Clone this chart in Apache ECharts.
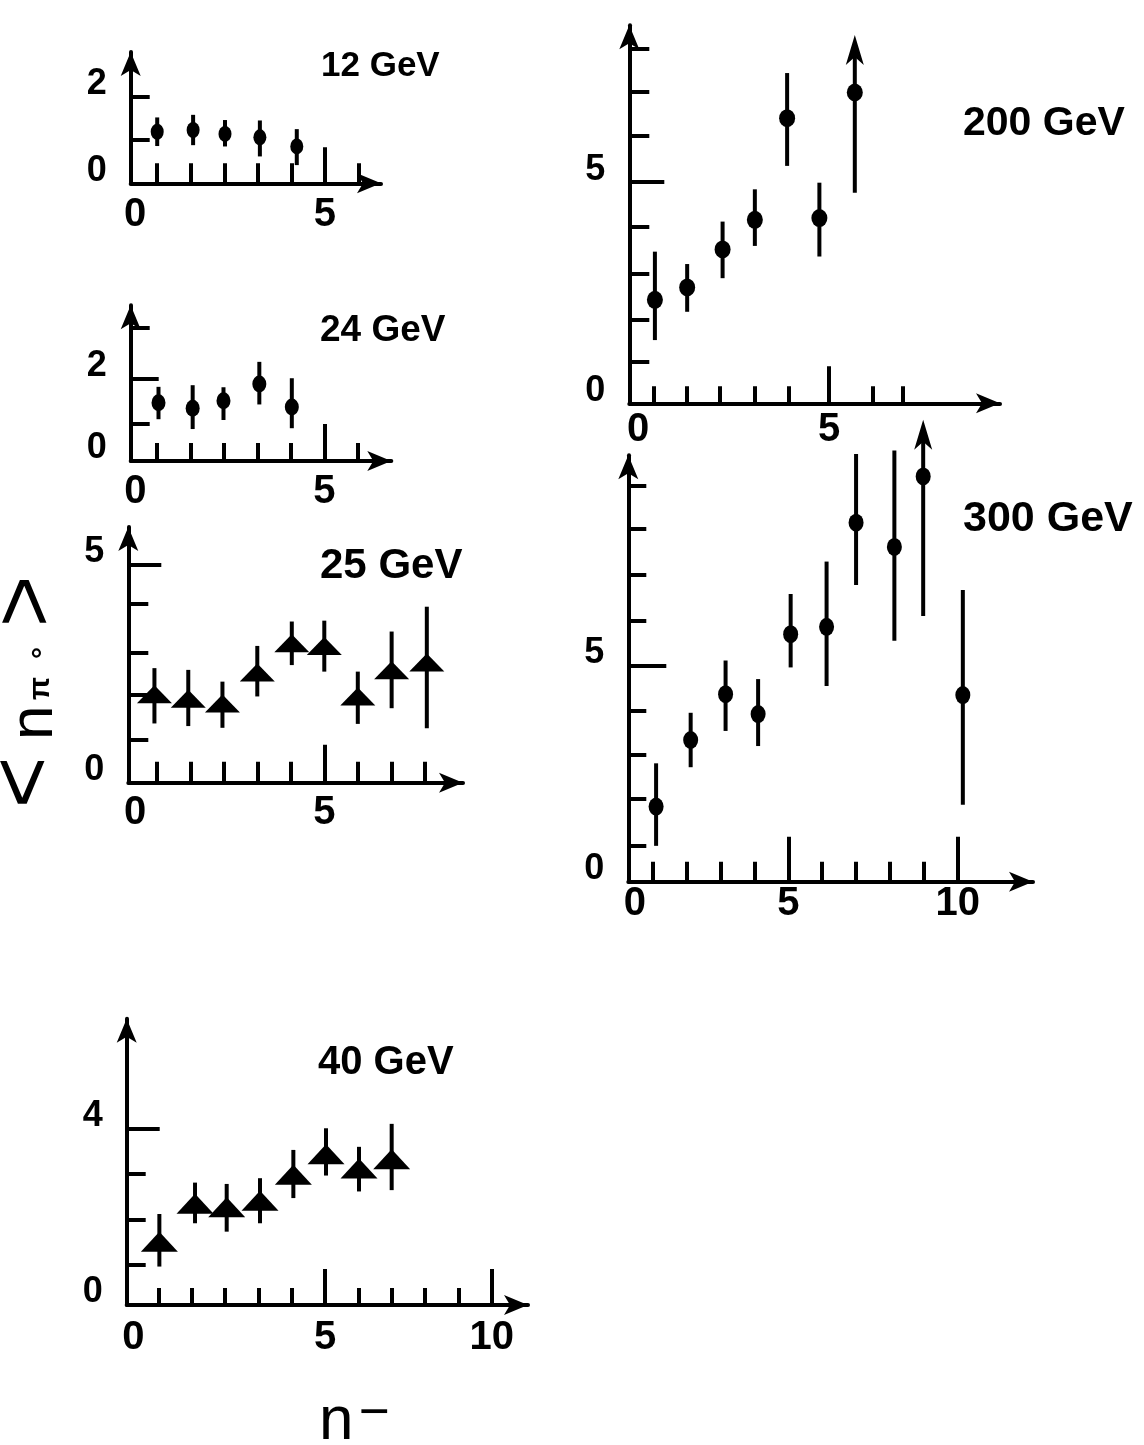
<!DOCTYPE html>
<html><head><meta charset="utf-8">
<script src="https://cdn.jsdelivr.net/npm/echarts@6/dist/echarts.min.js"></script>
<style>html,body{margin:0;padding:0;background:#fff}#c{width:1144px;height:1445px}</style>
</head><body><div id="c"></div>
<script>
// ---------- DATA ----------
// 12 GeV
const nA = [0, 1.07, 2.02, 3.06, 4.16];
const vA = [1.19, 1.23, 1.14, 1.06, 0.85];
const loA = [0.86, 0.88, 0.85, 0.62, 0.42];
const hiA = [1.52, 1.58, 1.46, 1.45, 1.25];
// 24 GeV
const nB = [0.05, 1.07, 1.99, 3.06, 4.03];
const vB = [1.42, 1.29, 1.47, 1.88, 1.32];
const loB = [1.02, 0.78, 1.00, 1.38, 0.80];
const hiB = [1.81, 1.85, 1.80, 2.42, 2.02];
// 25 GeV
const nC = [-0.07, 0.94, 1.96, 3.0, 4.03, 5.0, 6.0, 7.01, 8.06];
const vC = [2.03, 1.93, 1.82, 2.53, 3.20, 3.14, 1.98, 2.58, 2.76];
const loC = [1.36, 1.30, 1.26, 1.98, 2.70, 2.55, 1.35, 1.71, 1.25];
const hiC = [2.63, 2.59, 2.32, 3.14, 3.70, 3.72, 2.55, 3.47, 4.04];
// 40 GeV
const nD = [0.03, 1.10, 2.05, 3.05, 4.05, 5.03, 6.02, 7.0];
const vD = [1.43, 2.29, 2.21, 2.36, 2.95, 3.41, 3.09, 3.30];
const loD = [0.87, 1.85, 1.66, 1.85, 2.42, 2.93, 2.57, 2.60];
const hiD = [2.06, 2.77, 2.74, 2.87, 3.51, 4.00, 3.58, 4.10];
// 200 GeV
const nE = [0.03, 0.95, 1.96, 2.88, 3.80, 4.72, 5.73];
const vE = [2.34, 2.62, 3.48, 4.15, 6.45, 4.19, 7.03];
const loE = [1.43, 2.07, 2.83, 3.56, 5.37, 3.32, 4.76];
const hiE = [3.43, 3.15, 4.11, 4.84, 7.47, 4.99, 8.33];
const upE = [0, 0, 0, 0, 0, 0, 1];
// 300 GeV
const nF = [1.10, 2.12, 3.15, 4.11, 5.07, 6.13, 7.0, 8.13, 8.98, 10.15];
const vF = [1.74, 3.28, 4.34, 3.88, 5.73, 5.90, 8.31, 7.75, 9.38, 4.32];
const loF = [0.83, 2.65, 3.49, 3.14, 4.96, 4.53, 6.87, 5.58, 6.15, 1.78];
const hiF = [2.74, 3.91, 5.12, 4.69, 6.66, 7.41, 9.90, 9.98, 10.69, 6.75];
const upF = [0, 0, 0, 0, 0, 0, 0, 0, 1, 0];

// ---------- TICKS / LABELS ----------
const xTickA = [0, 1, 2, 3, 4, 6], xBigA = [5], xLabPosA = [-0.66, 5], xLabTxtA = ['0', '5'];
const yTickA = [1, 2], yBigA = [], yLabPosA = [0, 2], yLabTxtA = ['0', '2'];
const xTickB = [0, 1, 2, 3, 4, 6], xBigB = [5], xLabPosB = [-0.64, 5], xLabTxtB = ['0', '5'];
const yTickB = [0.9, 3.24], yBigB = [2], yLabPosB = [0, 2], yLabTxtB = ['0', '2'];
const xTickC = [0, 1, 2, 3, 4, 6, 7, 8], xBigC = [5], xLabPosC = [-0.65, 5], xLabTxtC = ['0', '5'];
const yTickC = [0.98, 2.01, 2.98, 4.1], yBigC = [5], yLabPosC = [0, 5], yLabTxtC = ['0', '5'];
const xTickD = [0, 1, 2, 3, 4, 6, 7, 8, 9], xBigD = [5, 10], xLabPosD = [-0.75, 5, 10], xLabTxtD = ['0', '5', '10'];
const yTickD = [0.91, 1.92, 2.96], yBigD = [4], yLabPosD = [0, 4], yLabTxtD = ['0', '4'];
const xTickE = [0, 0.95, 1.88, 2.88, 3.86, 6.24, 7.09], xBigE = [5], xLabPosE = [-0.45, 5], xLabTxtE = ['0', '5'];
const yTickE = [0.94, 1.9, 2.94, 4.0, 6.05, 7.05, 8.01], yBigE = [5], yLabPosE = [0, 5], yLabTxtE = ['0', '5'];
const xTickF = [1, 2, 3, 4, 6, 7, 8, 9], xBigF = [5, 10], xLabPosF = [0.475, 5, 10], xLabTxtF = ['0', '5', '10'];
const yTickF = [0.83, 1.91, 2.93, 3.96, 6.04, 7.1, 8.18, 9.16], yBigF = [5], yLabPosF = [0, 5], yLabTxtF = ['0', '5'];

const titles = ['12 GeV', '24 GeV', '25 GeV', '40 GeV', '200 GeV', '300 GeV'];
const yTitle = '{lt|<}{n|n}{p|π}{d|°}{gt|>}';
const xTitle = '{n|n}{m|−}';

// ---------- LAYOUT ----------
const NUMFONT = '"Liberation Sans Narrow", "Liberation Sans", sans-serif';
const TFONT = '"Liberation Sans", sans-serif';
const panels = [
  {n:nA, v:vA, lo:loA, hi:hiA, up:null, sym:'circle', ss:[13,16], g:[130.7,52,250.3,131.3], x:[-0.79,6.67], y:[0,3.03],
   xt:xTickA, xb:xBigA, xl:xLabPosA, xlt:xLabTxtA, xtl:20, xbl:36, xm:12,
   yt:yTickA, yb:yBigA, yl:yLabPosA, ylt:yLabTxtA, ytl:19, ybl:19, t:[321,66.7,35]},
  {n:nB, v:vB, lo:loB, hi:hiB, up:null, sym:'circle', ss:[14,17], g:[130.7,305.3,260.6,155.7], x:[-0.78,7.0], y:[0,3.80],
   xt:xTickB, xb:xBigB, xl:xLabPosB, xlt:xLabTxtB, xtl:18, xbl:37, xm:11,
   yt:yTickB, yb:yBigB, yl:yLabPosB, ylt:yLabTxtB, ytl:19, ybl:28, t:[320,331,37]},
  {n:nC, v:vC, lo:loC, hi:hiC, up:null, sym:'triangle', ss:[35,18], g:[128.3,527,334.7,255.7], x:[-0.85,9.14], y:[0,5.87],
   xt:xTickC, xb:xBigC, xl:xLabPosC, xlt:xLabTxtC, xtl:21, xbl:38, xm:10,
   yt:yTickC, yb:yBigC, yl:yLabPosC, ylt:yLabTxtC, ytl:20, ybl:33, t:[320,566,42]},
  {n:nD, v:vD, lo:loD, hi:hiD, up:null, sym:'triangle', ss:[37,20], g:[126.7,1018.7,401.3,286.3], x:[-0.95,11.09], y:[0,6.48],
   xt:xTickD, xb:xBigD, xl:xLabPosD, xlt:xLabTxtD, xtl:17, xbl:36, xm:13,
   yt:yTickD, yb:yBigD, yl:yLabPosD, ylt:yLabTxtD, ytl:19, ybl:33, t:[318,1063,40]},
  {n:nE, v:vE, lo:loE, hi:hiE, up:upE, sym:'circle', ss:[16,18], g:[629.3,25.3,370.7,378], x:[-0.70,9.87], y:[0,8.55],
   xt:xTickE, xb:xBigE, xl:xLabPosE, xlt:xLabTxtE, xtl:17, xbl:37, xm:7,
   yt:yTickE, yb:yBigE, yl:yLabPosE, ylt:yLabTxtE, ytl:20, ybl:35, t:[963,123.3,41]},
  {n:nF, v:vF, lo:loF, hi:hiF, up:upF, sym:'circle', ss:[15,18], g:[628.3,455.3,404.7,426.4], x:[0.28,12.22], y:[0,9.87],
   xt:xTickF, xb:xBigF, xl:xLabPosF, xlt:xLabTxtF, xtl:20, xbl:45, xm:2,
   yt:yTickF, yb:yBigF, yl:yLabPosF, ylt:yLabTxtF, ytl:18, ybl:38, t:[963,519,43]}
];

function lab(pos, txt, v) {
  let bi = 0, bd = 1e9;
  pos.forEach((q, j) => { const d = Math.abs(q - v); if (d < bd) { bd = d; bi = j; } });
  return txt[bi];
}
const LS = {color:'#000', width:4};

const grid = [], xAxis = [], yAxis = [], series = [], graphic = [];
panels.forEach((p, i) => {
  grid.push({left:p.g[0], top:p.g[1], width:p.g[2], height:p.g[3], containLabel:false, outerBoundsMode:'none'});
  xAxis.push({type:'value', gridIndex:i, min:p.x[0], max:p.x[1], position:'bottom',
    axisLine:{show:true, onZero:false, symbol:['none','arrow'], symbolSize:[15,24], lineStyle:LS},
    axisTick:{show:true, inside:true, length:p.xtl, customValues:p.xt, lineStyle:LS},
    axisLabel:{show:true, customValues:p.xl, formatter:(v) => lab(p.xl, p.xlt, v), margin:p.xm,
      color:'#000', fontSize:40, fontWeight:'bold', fontFamily:NUMFONT},
    splitLine:{show:false}});
  xAxis.push({type:'value', gridIndex:i, min:p.x[0], max:p.x[1], position:'bottom',
    axisLine:{show:false, onZero:false}, axisTick:{show:true, inside:true, length:p.xbl, customValues:p.xb, lineStyle:LS},
    axisLabel:{show:false}, splitLine:{show:false}});
  yAxis.push({type:'value', gridIndex:i, min:p.y[0], max:p.y[1], position:'left',
    axisLine:{show:true, onZero:false, symbol:['none','arrow'], symbolSize:[15,24], lineStyle:LS},
    axisTick:{show:true, inside:true, length:p.ytl, customValues:p.yt, lineStyle:LS},
    axisLabel:{show:true, customValues:p.yl, formatter:(v) => lab(p.yl, p.ylt, v), margin:24,
      verticalAlign:'bottom', lineHeight:25, color:'#000', fontSize:36, fontWeight:'bold', fontFamily:NUMFONT},
    splitLine:{show:false}});
  yAxis.push({type:'value', gridIndex:i, min:p.y[0], max:p.y[1], position:'left',
    axisLine:{show:false, onZero:false}, axisTick:{show:p.yb.length > 0, inside:true, length:p.ybl, customValues:p.yb.length ? p.yb : [0], lineStyle:LS},
    axisLabel:{show:false}, splitLine:{show:false}});
  series.push({type:'custom', xAxisIndex:2*i, yAxisIndex:2*i, clip:false, silent:true, z:2,
    data:p.n.map((x, k) => [x, p.lo[k], p.hi[k], p.up ? p.up[k] : 0]),
    renderItem:(params, api) => {
      const a = api.coord([api.value(0), api.value(1)]);
      const b = api.coord([api.value(0), api.value(2)]);
      const up = api.value(3) === 1;
      const ch = [{type:'line', shape:{x1:a[0], y1:a[1], x2:b[0], y2:up ? b[1] + 12 : b[1]},
        style:{stroke:'#000', lineWidth:4}}];
      if (up) ch.push({type:'polygon', shape:{points:[[b[0], b[1]], [b[0] + 9, b[1] + 30], [b[0], b[1] + 22], [b[0] - 9, b[1] + 30]]},
        style:{fill:'#000'}});
      return {type:'group', children:ch};
    }});
  series.push({type:'scatter', xAxisIndex:2*i, yAxisIndex:2*i, silent:true, z:3,
    symbol:p.sym, symbolSize:p.ss, itemStyle:{color:'#000', opacity:1},
    data:p.n.map((x, k) => [x, p.v[k]])});
  graphic.push({type:'text', x:p.t[0], y:p.t[1], silent:true,
    style:{text:titles[i], fill:'#000', fontSize:p.t[2], fontWeight:'bold', fontFamily:TFONT,
      align:'left', verticalAlign:'middle', textAlign:'left', textVerticalAlign:'middle'}});
});

graphic.push({type:'text', x:30, y:808, rotation:Math.PI / 2, silent:true,
  style:{text:yTitle, fill:'#000', align:'left', verticalAlign:'middle', textAlign:'left', textVerticalAlign:'middle',
    rich:{
      lt:{fontSize:88, fontFamily:TFONT, fontWeight:'normal', width:68, align:'left', padding:[0,0,6,0], fill:'#000'},
      n:{fontSize:62, fontFamily:TFONT, fontWeight:'normal', width:40, align:'left', padding:[9,0,0,0], fill:'#000'},
      p:{fontSize:30, fontFamily:TFONT, fontWeight:'bold', width:41, align:'left', padding:[22,0,0,0], fill:'#000'},
      d:{fontSize:30, fontFamily:TFONT, fontWeight:'bold', width:32, align:'left', padding:[29,0,0,0], fill:'#000'},
      gt:{fontSize:88, fontFamily:TFONT, fontWeight:'normal', width:51, align:'left', padding:[0,0,2,0], fill:'#000'}
    }}});
graphic.push({type:'text', x:319, y:1422, silent:true,
  style:{text:xTitle, fill:'#000', align:'left', verticalAlign:'middle', textAlign:'left', textVerticalAlign:'middle',
    rich:{
      n:{fontSize:62, fontFamily:TFONT, fontWeight:'normal', width:40, align:'left', fill:'#000'},
      m:{fontSize:53, fontFamily:TFONT, fontWeight:'normal', align:'left', padding:[0,0,16,0], fill:'#000'}
    }}});

const chart = echarts.init(document.getElementById('c'), null, {renderer:'canvas'});
chart.setOption({animation:false, backgroundColor:'#fff', grid, xAxis, yAxis, series, graphic});
</script></body></html>
